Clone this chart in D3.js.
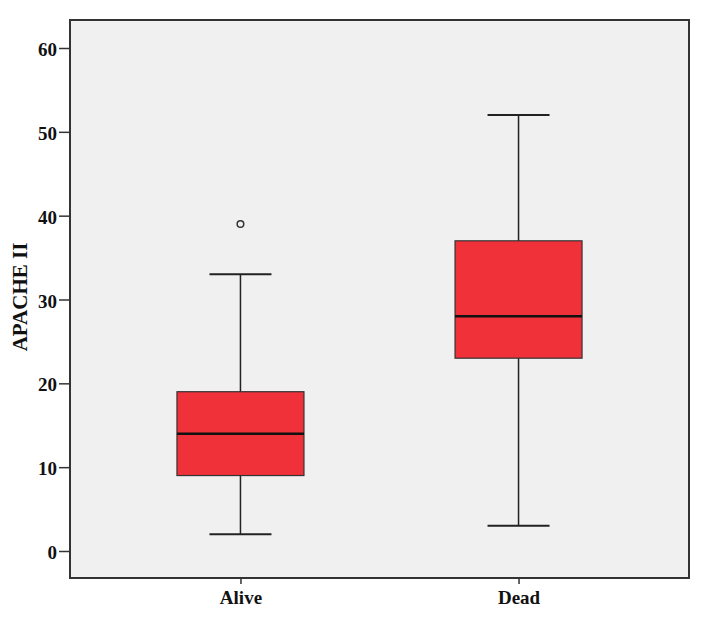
<!DOCTYPE html>
<html>
<head>
<meta charset="utf-8">
<script src="https://cdn.jsdelivr.net/npm/d3@7"></script>
<style>
  body { margin: 0; background: #fff; }
  text { font-family: "Liberation Serif", "Times New Roman", serif; font-weight: bold; }
</style>
</head>
<body>
<div id="chart-container"></div>
<script>
// data
const categories = ["Alive", "Dead"];
const whiskerLow = [2, 3];
const q1 = [9, 23];
const medians = [14, 28];
const q3 = [19, 37];
const whiskerHigh = [33, 52];
const outliers = [[39], []];
const yTicks = [0, 10, 20, 30, 40, 50, 60];

const width = 706, height = 620;
const plotLeft = 70, plotRight = 689, plotTop = 20, plotBottom = 578;

const svg = d3.select("#chart-container")
  .append("svg")
  .attr("width", width)
  .attr("height", height);

// plot background
svg.append("rect")
  .attr("x", plotLeft).attr("y", plotTop)
  .attr("width", plotRight - plotLeft).attr("height", plotBottom - plotTop)
  .attr("fill", "#f0f0f0");

const x = d3.scalePoint()
  .domain(categories)
  .range([plotLeft, plotRight])
  .padding(0.613);

const y = d3.scaleLinear()
  .domain([0, 60])
  .range([551, 48]);

const boxW = 127, capW = 62;

const boxes = categories.map((c, i) => ({
  cat: c, lo: whiskerLow[i], q1: q1[i], med: medians[i], q3: q3[i], hi: whiskerHigh[i], out: outliers[i]
}));

const g = svg.append("g");

// whiskers
g.selectAll(".whisker")
  .data(boxes).enter()
  .append("line")
  .attr("x1", d => x(d.cat)).attr("x2", d => x(d.cat))
  .attr("y1", d => y(d.lo)).attr("y2", d => y(d.hi))
  .attr("stroke", "#222").attr("stroke-width", 1.5);

// caps
["lo", "hi"].forEach(k => {
  g.selectAll(".cap-" + k)
    .data(boxes).enter()
    .append("line")
    .attr("x1", d => x(d.cat) - capW / 2).attr("x2", d => x(d.cat) + capW / 2)
    .attr("y1", d => y(d[k])).attr("y2", d => y(d[k]))
    .attr("stroke", "#222").attr("stroke-width", 2);
});

// boxes
g.selectAll(".box")
  .data(boxes).enter()
  .append("rect")
  .attr("x", d => x(d.cat) - boxW / 2)
  .attr("y", d => y(d.q3))
  .attr("width", boxW)
  .attr("height", d => y(d.q1) - y(d.q3))
  .attr("fill", "#f0313a")
  .attr("stroke", "#333").attr("stroke-width", 1.2);

// medians
g.selectAll(".median")
  .data(boxes).enter()
  .append("line")
  .attr("x1", d => x(d.cat) - boxW / 2).attr("x2", d => x(d.cat) + boxW / 2)
  .attr("y1", d => y(d.med)).attr("y2", d => y(d.med))
  .attr("stroke", "#111").attr("stroke-width", 2.5);

// outliers
boxes.forEach(d => {
  g.selectAll(null)
    .data(d.out).enter()
    .append("circle")
    .attr("cx", x(d.cat)).attr("cy", v => y(v))
    .attr("r", 3.3)
    .attr("fill", "#f0f0f0")
    .attr("stroke", "#333").attr("stroke-width", 1.5);
});

// axes
const yAxis = svg.append("g")
  .attr("transform", `translate(${plotLeft},0)`)
  .call(d3.axisLeft(y).tickValues(yTicks).tickSize(11).tickPadding(2).tickSizeOuter(0));
yAxis.select(".domain").remove();
yAxis.selectAll("line").attr("stroke", "#333").attr("stroke-width", 1.5);
yAxis.selectAll("text").attr("font-size", 19).attr("fill", "#111").attr("dy", "0.4em")
  .style("font-family", '"Liberation Serif", serif').style("font-weight", "bold");

const xAxis = svg.append("g")
  .attr("transform", `translate(0,${plotBottom})`)
  .call(d3.axisBottom(x).tickSize(6).tickPadding(7).tickSizeOuter(0));
xAxis.select(".domain").remove();
xAxis.selectAll("line").attr("stroke", "#333").attr("stroke-width", 1.5);
xAxis.selectAll("text").attr("font-size", 19).attr("fill", "#111")
  .style("font-family", '"Liberation Serif", serif').style("font-weight", "bold");

// frame
svg.append("rect")
  .attr("x", plotLeft).attr("y", plotTop)
  .attr("width", plotRight - plotLeft).attr("height", plotBottom - plotTop)
  .attr("fill", "none")
  .attr("stroke", "#333").attr("stroke-width", 2);

// y label
svg.append("text")
  .attr("transform", `translate(27,297) rotate(-90)`)
  .attr("text-anchor", "middle")
  .attr("font-size", 21)
  .attr("fill", "#111")
  .text("APACHE II");
</script>
</body>
</html>
